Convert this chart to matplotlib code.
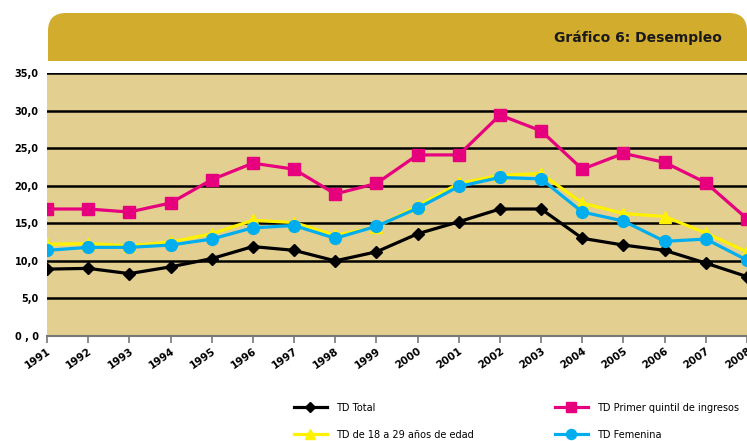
import matplotlib.pyplot as plt
from matplotlib.patches import FancyBboxPatch, Rectangle

# Data
years = list(range(1991, 2009))
td_total = [8.9, 9.0, 8.3, 9.2, 10.3, 11.9, 11.4, 10.0, 11.2, 13.6, 15.2, 16.9, 16.9, 13.0, 12.1, 11.4, 9.7, 7.9]
td_quintil = [16.9, 16.9, 16.5, 17.7, 20.8, 23.0, 22.2, 18.9, 20.3, 24.1, 24.1, 29.4, 27.3, 22.2, 24.3, 23.1, 20.4, 15.6]
td_jovenes = [12.2, 12.3, 12.0, 12.5, 13.6, 15.4, 15.1, 13.4, 14.5, 17.3, 20.3, 21.4, 21.6, 17.7, 16.3, 15.9, 13.7, 11.2]
td_femenina = [11.4, 11.8, 11.8, 12.1, 12.9, 14.4, 14.7, 13.0, 14.6, 17.0, 19.9, 21.1, 20.9, 16.5, 15.3, 12.6, 12.9, 10.1]
yticks = [0, 5, 10, 15, 20, 25, 30, 35]
ytick_labels = ['0 , 0', '5,0', '10,0', '15,0', '20,0', '25,0', '30,0', '35,0']

W, H = 747, 441
fig = plt.figure(figsize=(W / 100, H / 100), dpi=100)

# background layer in pixel coordinates for the title banner
bg = fig.add_axes([0, 0, 1, 1], zorder=0)
bg.set_xlim(0, W)
bg.set_ylim(H, 0)
bg.axis('off')
gold = '#D2AC2C'
bg.add_patch(FancyBboxPatch((48, 13), 699, 48, boxstyle='round,pad=0,rounding_size=18',
                            fc=gold, ec='none'))
bg.add_patch(Rectangle((48, 35), 699, 26, fc=gold, ec='none'))
bg.text(722, 38, 'Gráfico 6: Desempleo', ha='right', va='center',
        fontsize=10, fontweight='bold', color='#1a1a1a')

# main chart
ax = fig.add_axes([47 / W, 1 - 336 / H, 1 - 47 / W, (336 - 73) / H], zorder=1)
ax.set_facecolor('#E3CF8F')

l_total, = ax.plot(years, td_total, color='black', lw=2.3, marker='D', ms=6.5,
                   label='TD Total', zorder=3)
l_jov, = ax.plot(years, td_jovenes, color='#FFF200', lw=2.3, marker='^', ms=8,
                 label='TD de 18 a 29 años de edad', zorder=4)
l_quin, = ax.plot(years, td_quintil, color='#E6007E', lw=2.3, marker='s', ms=8,
                  label='TD Primer quintil de ingresos', zorder=5)
l_fem, = ax.plot(years, td_femenina, color='#00AEEF', lw=2.3, marker='o', ms=8.5,
                 label='TD Femenina', zorder=5)

ax.set_xlim(1991, 2008)
ax.set_ylim(0, 35)
ax.set_yticks(yticks)
ax.set_yticklabels(ytick_labels, fontsize=7, fontweight='bold')
ax.set_xticks(years)
ax.set_xticklabels([str(y) for y in years], rotation=35, ha='right',
                   rotation_mode='anchor', fontsize=7.5, fontweight='bold')
for y in yticks[1:]:
    ax.axhline(y, color='black', lw=1.8, zorder=2)

for side in ['top', 'right', 'left']:
    ax.spines[side].set_visible(False)
ax.spines['bottom'].set_color('#777777')
ax.spines['bottom'].set_linewidth(1.5)
ax.tick_params(axis='y', length=0, pad=6)
ax.tick_params(axis='x', length=5, width=1.2, color='#777777', pad=2)

# two legend columns placed separately
leg_kw = dict(loc='upper left', frameon=False, fontsize=7, handlelength=3.4,
              labelspacing=1.75, markerscale=0.85, handletextpad=0.9)
fig.legend([l_total, l_jov], ['TD Total', 'TD de 18 a 29 años de edad'],
           bbox_to_anchor=(285 / W, 1 - 394 / H), **leg_kw)
fig.legend([l_quin, l_fem], ['TD Primer quintil de ingresos', 'TD Femenina'],
           bbox_to_anchor=(546 / W, 1 - 394 / H), **leg_kw)

fig.savefig('out.png', dpi=100)
